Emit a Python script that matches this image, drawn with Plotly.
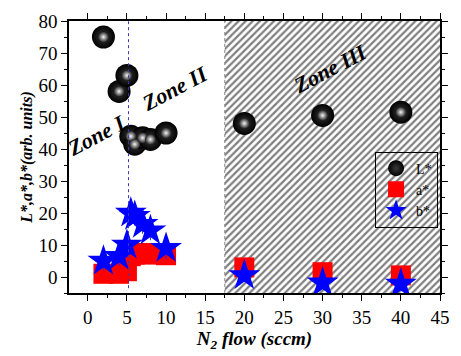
import plotly.graph_objects as go

# ---- data ----
n2_flow = [2, 4, 5, 5.5, 6, 7, 8, 10, 20, 30, 40]
L_star = [75, 58, 63, 44, 41.5, 43.5, 43, 45, 48, 50.5, 51.5]
a_star = [1, 1, 1.8, 6.5, 7, 7.5, 7, 6.8, 3, 1.5, 0.5]
b_star = [5, 6.5, 10, 20, 19, 16.5, 14.5, 9, 0.5, -1.8, -2.2]
b_err = [3, 3, 3, 3, 3, 3, 3, 3.5, 2, 2, 2]

zone_boundary_1 = 5.2
zone_boundary_2 = 17.5
x_range = [-2.4, 45]
y_range = [-5, 80]
zone_labels = ["Zone I", "Zone II", "Zone III"]
zone_label_x = [1.1, 11.1, 31]
zone_label_y = [44.3, 59, 65.3]

serif = "Liberation Serif, Times New Roman, serif"

fig = go.Figure()

# hatched zone III
fig.add_trace(go.Scatter(
    x=[zone_boundary_2, x_range[1], x_range[1], zone_boundary_2, zone_boundary_2],
    y=[y_range[0], y_range[0], y_range[1], y_range[1], y_range[0]],
    mode="lines", fill="toself", fillcolor="rgba(0,0,0,0)",
    fillpattern=dict(shape="/", fgcolor="black", bgcolor="rgba(0,0,0,0)", size=5, solidity=0.45),
    line=dict(color="rgba(0,0,0,0)", width=0),
    showlegend=False, hoverinfo="skip"))

fig.add_trace(go.Scatter(
    x=n2_flow, y=a_star, mode="markers", name="a*", legendrank=2,
    marker=dict(symbol="square", size=20, color="#ff0000", line=dict(width=0))))

fig.add_trace(go.Scatter(
    x=n2_flow, y=b_star, mode="markers", name="b*", legendrank=3,
    error_y=dict(type="data", array=b_err, color="#2a2ae0", thickness=1, width=0),
    marker=dict(symbol="star", size=24, color="#0000ff", line=dict(width=0))))

fig.add_trace(go.Scatter(
    x=n2_flow, y=L_star, mode="markers", name="L*", legendrank=1,
    marker=dict(symbol="circle", size=23, color="#000000",
                gradient=dict(type="radial", color="#3a3a3a"),
                line=dict(width=0))))
fig.add_trace(go.Scatter(
    x=n2_flow, y=L_star, mode="markers", showlegend=False, hoverinfo="skip",
    marker=dict(symbol="circle", size=11, color="#1a1a1a",
                gradient=dict(type="radial", color="#f4f4f4"),
                line=dict(width=0))))

# zone I/II separator
fig.add_shape(type="line", x0=zone_boundary_1, x1=zone_boundary_1, y0=-3.5, y1=y_range[1],
              line=dict(color="#3a3ab0", width=1, dash="dot"), layer="above")
# zone III left edge
fig.add_shape(type="line", x0=zone_boundary_2, x1=zone_boundary_2, y0=y_range[0], y1=y_range[1],
              line=dict(color="#888888", width=1, dash="dot"), layer="above")

for t, xx, yy in zip(zone_labels, zone_label_x, zone_label_y):
    fig.add_annotation(x=xx, y=yy, text=f"<b><i>{t}</i></b>", showarrow=False,
                       textangle=-28, font=dict(family=serif, size=22, color="black"))

axis_common = dict(showline=True, linecolor="black", linewidth=1.5, mirror="ticks",
                   ticks="outside", ticklen=6, tickwidth=1, tickcolor="black",
                   showgrid=False, zeroline=False,
                   tickfont=dict(family=serif, size=19, color="black"))

fig.update_xaxes(range=x_range, dtick=5, tick0=0,
                 minor=dict(ticks="outside", ticklen=3, dtick=2.5, tickcolor="black"),
                 title=dict(text="<b><i>N<sub>2</sub> flow (sccm)</i></b>",
                            font=dict(family=serif, size=19, color="black"), standoff=4),
                 **axis_common)
fig.update_yaxes(range=y_range, dtick=10, tick0=0,
                 minor=dict(ticks="outside", ticklen=3, dtick=5, tickcolor="black"),
                 title=dict(text="<b><i>L*,a*,b*(arb. units)</i></b>",
                            font=dict(family=serif, size=16, color="black"), standoff=2),
                 **axis_common)

fig.update_layout(
    width=461, height=356,
    margin=dict(l=69, r=11, t=18, b=54),
    paper_bgcolor="white", plot_bgcolor="white",
    legend=dict(x=0.825, y=0.52, xanchor="left", yanchor="top",
                bgcolor="rgba(0,0,0,0)", bordercolor="black", borderwidth=1,
                font=dict(family=serif, size=14, color="black"),
                itemwidth=30, tracegroupgap=0),
)

fig.write_html("out.html")
